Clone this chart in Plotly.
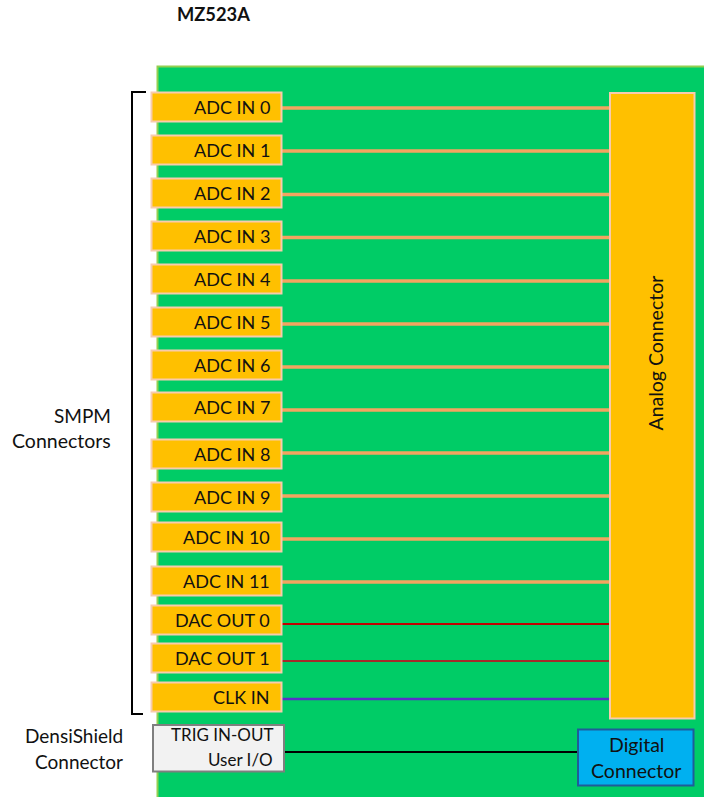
import plotly.graph_objects as go

FONT = "Lato"
channel_labels = ["ADC IN 0", "ADC IN 1", "ADC IN 2", "ADC IN 3", "ADC IN 4", "ADC IN 5", "ADC IN 6", "ADC IN 7",
                  "ADC IN 8", "ADC IN 9", "ADC IN 10", "ADC IN 11", "DAC OUT 0", "DAC OUT 1", "CLK IN"]
box_centers = [107, 150, 193, 236, 279, 322, 365, 407, 454, 497, 537, 581, 620, 658, 697]
line_levels = [108, 151, 194.5, 237.5, 281, 324, 367, 410, 453, 496, 539, 582, 624, 661, 699]
line_colors = ["#F4A460"] * 12 + ["#C00000", "#A52A2A", "#5B2FC9"]
line_widths = [3.6] * 12 + [2.2, 2.2, 2.4]

fig = go.Figure()


def rect(x0, y0, x1, y1, fill, edge, width):
    fig.add_shape(type="rect", x0=x0, y0=y0, x1=x1, y1=y1, fillcolor=fill,
                  line=dict(color=edge, width=width), layer="above")


def text(x, y, s, size=18, anchor="center", angle=0, bold=False):
    fig.add_annotation(x=x, y=y, text=f"<b>{s}</b>" if bold else s, showarrow=False, xanchor=anchor, yanchor="middle",
                       textangle=angle, font=dict(family=FONT, size=size, color="#111111"))


# Board
fig.add_shape(type="rect", x0=157.5, y0=66.5, x1=706, y1=800, fillcolor="#00CC66",
              line=dict(color="#92D050", width=2), layer="below")

# Wires
for y, c, w in zip(line_levels, line_colors, line_widths):
    fig.add_trace(go.Scatter(x=[282, 610], y=[y, y], mode="lines", line=dict(color=c, width=w), hoverinfo="skip"))
fig.add_trace(go.Scatter(x=[285, 578], y=[752, 752], mode="lines", line=dict(color="#000000", width=2), hoverinfo="skip"))

# Bracket
fig.add_trace(go.Scatter(x=[146, 132, 132, 143], y=[92, 92, 714, 714], mode="lines",
                         line=dict(color="#000000", width=2), hoverinfo="skip"))

# Channel boxes
for y, label in zip(box_centers, channel_labels):
    rect(151.5, y - 14.5, 281.5, y + 14.5, "#FFC000", "#F8CBAD", 2)
    text(271.5, y - 0.5, label, anchor="right")

# Analog connector
rect(610, 93, 694.5, 718.5, "#FFC000", "#F8CBAD", 2)
text(655, 353.5, "Analog Connector", size=19.5, angle=-90)

# Trig box
rect(153, 725, 284, 771.5, "#F2F2F2", "#7F7F7F", 2)
text(274.5, 734.5, "TRIG IN-OUT", size=17, anchor="right")
text(274.5, 759.5, "User I/O", size=17, anchor="right")

# Digital connector
rect(578, 729.5, 693.5, 785.5, "#00B0F0", "#1F5C99", 2)
text(636, 744.5, "Digital", size=19.5)
text(636, 770.5, "Connector", size=19.5)

# Side labels
text(113, 415, "SMPM", size=19, anchor="right")
text(113, 440, "Connectors", size=19.5, anchor="right")
text(125, 735, "DensiShield", size=19, anchor="right")
text(125, 761, "Connector", size=19, anchor="right")
text(213.5, 14, "MZ523A", size=18.3, bold=True)

fig.update_xaxes(range=[0, 704], visible=False)
fig.update_yaxes(range=[797, 0], visible=False)
fig.update_layout(width=704, height=797, margin=dict(l=0, r=0, t=0, b=0), showlegend=False,
                  plot_bgcolor="white", paper_bgcolor="white")
fig.write_html("out.html", config={"displayModeBar": False},
               post_script="document.body.style.margin='0';document.body.style.overflow='hidden';")
